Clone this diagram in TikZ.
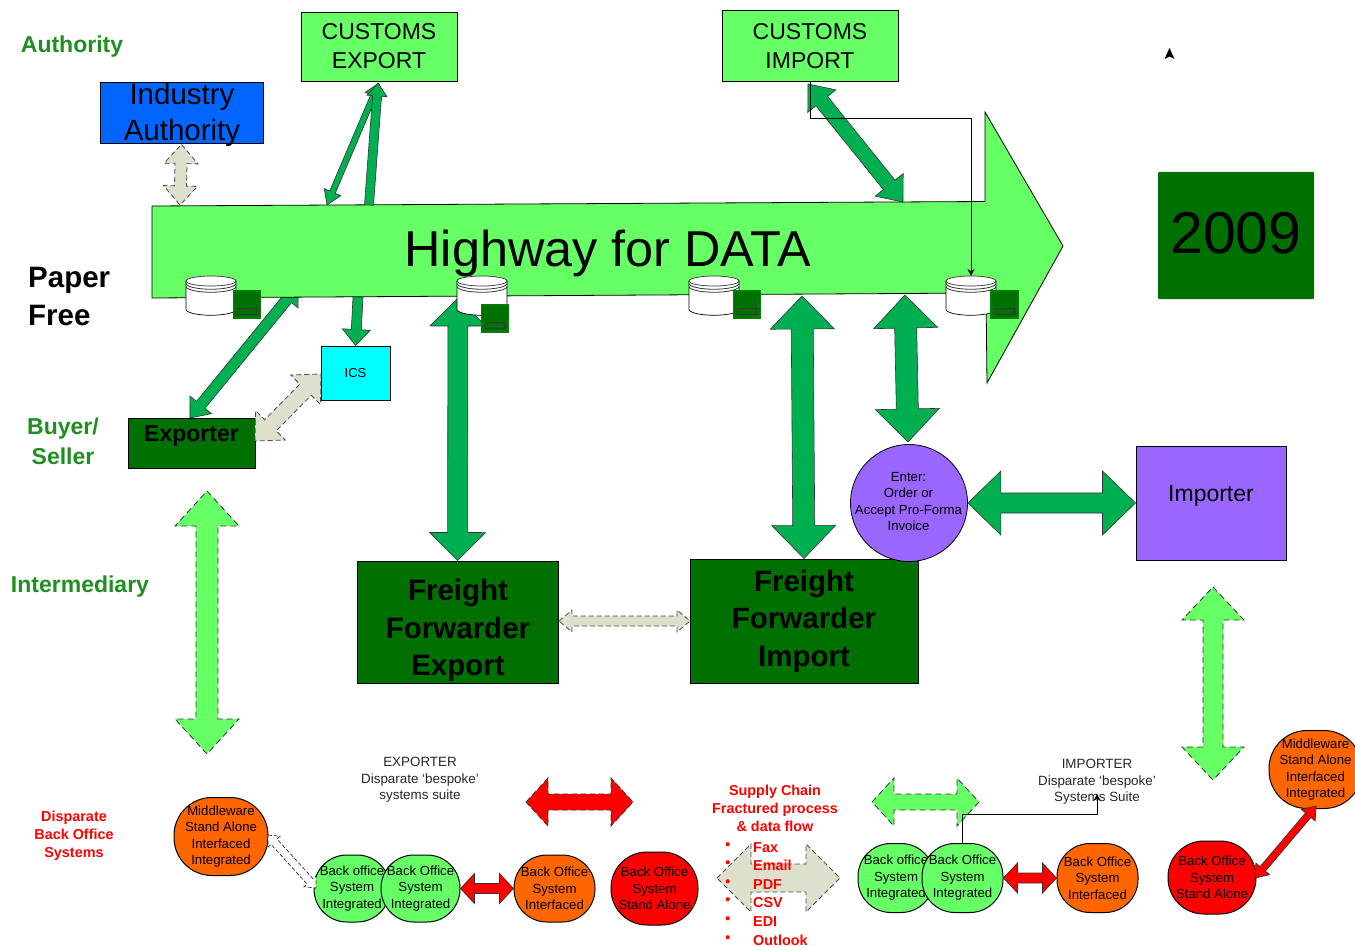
\documentclass[tikz,border=0pt]{standalone}
\usepackage{fontspec}
\setmainfont{Liberation Sans}
\usetikzlibrary{calc,arrows.meta}
\definecolor{lgreen}{HTML}{66FF66}
\definecolor{dgreen}{HTML}{007000}
\definecolor{agreen}{HTML}{00B050}
\definecolor{beige}{HTML}{DDE0CC}
\definecolor{iblue}{HTML}{0066FF}
\definecolor{purp}{HTML}{9966FF}
\definecolor{orng}{HTML}{FF6600}
\definecolor{lblgreen}{HTML}{1F8F1F}
\definecolor{icscyan}{HTML}{00FFFF}
\definecolor{pure}{HTML}{FF0000}
\newcommand{\fs}[2]{\fontsize{#1}{#2}\selectfont}
\tikzset{
  boxn/.style={draw=black,line width=1pt,inner sep=0pt,minimum width=#1},
  txt/.style={inner sep=0pt,align=center},
  bo/.style={draw=black,line width=1pt,rounded corners=33pt,inner sep=0pt,align=center,font=\fs{13.2}{16.5}},
  arrg/.style={fill=agreen,draw=black!80,line width=.6pt},
  arrb/.style={fill=beige,draw=black!70,line width=.8pt,dash pattern=on 5pt off 3pt},
  arrl/.style={fill=lgreen,draw=black!80,line width=.8pt,dash pattern=on 6pt off 4pt},
  arrr/.style={fill=pure,draw=black!80,line width=.8pt,dash pattern=on 6pt off 3pt},
  arrs/.style={fill=pure,draw=black!80,line width=.7pt},
  arrw/.style={fill=white,draw=black!80,line width=.7pt,dash pattern=on 4pt off 2pt},
  lab/.style={inner sep=0pt,align=center,text=lblgreen,font=\bfseries\fs{23}{30}},
  redl/.style={inner sep=0pt,align=center,text=pure,font=\bfseries\fs{14.4}{18}},
  blk/.style={inner sep=0pt,align=center,font=\fs{13.4}{16.5},text=black!85},
  thinl/.style={draw=black,line width=.9pt},
}
% double-headed block arrow: style, a, b, half shaft, half head, head length
\newcommand{\dbl}[6]{\draw[#1] (#2)
 -- ($(#2)!#6pt!(#3)!#5pt!90:(#3)$)
 -- ($(#2)!#6pt!(#3)!#4pt!90:(#3)$)
 -- ($(#3)!#6pt!(#2)!#4pt!-90:(#2)$)
 -- ($(#3)!#6pt!(#2)!#5pt!-90:(#2)$)
 -- (#3)
 -- ($(#3)!#6pt!(#2)!#5pt!90:(#2)$)
 -- ($(#3)!#6pt!(#2)!#4pt!90:(#2)$)
 -- ($(#2)!#6pt!(#3)!#4pt!-90:(#3)$)
 -- ($(#2)!#6pt!(#3)!#5pt!-90:(#3)$)
 -- cycle;}
% single-headed block arrow: style, tail, head, half shaft, half head, head length
\newcommand{\sgl}[6]{\draw[#1] ($(#2)!#4pt!90:(#3)$)
 -- ($(#3)!#6pt!(#2)!#4pt!-90:(#2)$)
 -- ($(#3)!#6pt!(#2)!#5pt!-90:(#2)$)
 -- (#3)
 -- ($(#3)!#6pt!(#2)!#5pt!90:(#2)$)
 -- ($(#3)!#6pt!(#2)!#4pt!90:(#2)$)
 -- ($(#2)!#4pt!-90:(#3)$)
 -- cycle;}
% database drum (left x, top y) plus small store box (centre x, centre y)
\newcommand{\drum}[5]{%
 \begin{scope}[shift={(#2,#3)}]
  \draw[fill=white,draw=black,line width=.7pt] (0,5) -- (0,34) .. controls (5,41) and (45,41) .. (50,34) -- (50,5) -- cycle;
  \draw[draw=black!80,line width=.8pt] (0,8) .. controls (5,15) and (45,15) .. (50,8);
  \draw[draw=black!80,line width=.8pt] (0,11) .. controls (5,18) and (45,18) .. (50,11);
  \draw[fill=white,draw=black!80,line width=.7pt] (25,5) ellipse [x radius=25,y radius=5];
 \end{scope}
 \coordinate (#1) at (#2+25,#3);
 \node[draw=black!50!green,fill=dgreen,line width=1.2pt,minimum width=27pt,minimum height=27pt,inner sep=0pt] (#1b) at (#4,#5) {};
 \node[draw=black!80,line width=.7pt,minimum width=19pt,minimum height=6pt,inner sep=0pt] (#1c) at (#4,#5+6.5) {};
}
\begin{document}
\begin{tikzpicture}[x=1pt,y=-1pt]
\useasboundingbox (0,0) rectangle (1355,947);
\fill[white] (0,0) rectangle (1355,947);
\begin{scope}
\clip (0,0) rectangle (1355,947);

% coordinates on the highway
\coordinate (hA) at (180,205);
\coordinate (hB) at (327,205);
\coordinate (hC) at (369,205);
\coordinate (hD) at (903,202);
\coordinate (hE) at (298,286);
\coordinate (hF) at (358,297);
\coordinate (hG) at (458,298);
\coordinate (hH) at (802,296);
\coordinate (hI) at (905,295);
\coordinate (exN) at (190,418);

% exporter arrow runs behind the highway
\dbl{arrg}{hE}{exN}{5.5}{14}{17}

% highway
\draw[fill=lgreen,draw=black,line width=.8pt] (152,206) -- (985,201.5) -- (985,112) -- (1063,246) -- (987,383) -- (986,293) -- (152,298) -- cycle;
\node[txt,font=\fs{50.4}{55}] (hwy) at (608,253) {Highway for DATA};

% boxes
\node[boxn=156pt,minimum height=69pt,fill=lgreen] (cexp) at (379,47.5) {};
\node[txt,font=\fs{23}{29}] (cexpt) at (379,46) {CUSTOMS\\EXPORT};
\node[boxn=176pt,minimum height=71pt,fill=lgreen] (cimp) at (810,46.5) {};
\node[txt,font=\fs{23}{29}] (cimpt) at (810,46) {CUSTOMS\\IMPORT};
\node[boxn=163pt,minimum height=61pt,fill=iblue] (ind) at (181.5,113.5) {};
\node[txt,font=\fs{29.5}{36}] (indt) at (182,115) {Industry\\Authority};
\node[boxn=69pt,minimum height=54pt,fill=icscyan,font=\fs{13}{15}] (ics) at (355.5,373) {ICS};
\node[boxn=127pt,minimum height=50pt,fill=dgreen] (exp) at (191.5,443) {};
\node[boxn=201pt,minimum height=122pt,fill=dgreen] (ffe) at (457.5,622) {};
\node[boxn=228pt,minimum height=124pt,fill=dgreen] (ffi) at (804,621) {};
\node[boxn=150pt,minimum height=114pt,fill=purp,font=\fs{23}{29}] (imp) at (1211,503) {};
\node[txt,font=\fs{23}{29}] (impt) at (1211,496) {Importer};
\node[draw=none,fill=dgreen,minimum width=156pt,minimum height=127pt,inner sep=0pt,rounded corners=1pt] (y2009) at (1236,235.5) {};
\node[txt,font=\fs{59}{65}] (y2009t) at (1236,233) {2009};
\node[txt,font=\bfseries\fs{23}{29}] (expt) at (191.5,436) {Exporter};
\node[txt,font=\bfseries\fs{29.5}{37.5}] (ffet) at (458,630.5) {Freight\\Forwarder\\Export};
\node[txt,font=\bfseries\fs{29.5}{37.5}] (ffit) at (804,621) {Freight\\Forwarder\\Import};

\coordinate (ceA) at (379,83);
\coordinate (ceB) at (378,83);
\coordinate (ciA) at (808,84);
\coordinate (exE) at (255,441);
\coordinate (icW) at (321,374);
\coordinate (ffeE) at (559,621);
\coordinate (ffiW) at (690,621);
\coordinate (enS) at (908,442);

% top / middle arrows
\dbl{arrb}{ind.south}{hA}{6}{17}{19}
\dbl{arrg}{ceA}{hB}{3}{9}{14}
\sgl{arrg}{hC}{ceB}{4.5}{10}{13}
\dbl{arrg}{ciA}{hD}{7.5}{18}{22}
\sgl{arrg}{hF}{ics.north}{5}{14}{16}
\dbl{arrb}{exE}{icW}{8}{21}{22}
\dbl{arrg}{hG}{ffe.north}{10}{28}{28}
\dbl{arrg}{hH}{ffi.north}{11}{32}{33}
\dbl{arrb}{ffeE}{ffiW}{5}{11}{13}

% enter circle
\dbl{arrg}{hI}{enS}{11}{32}{33}
\node[circle,draw=black,line width=.8pt,fill=purp,minimum size=117pt,inner sep=0pt] (enter) at (909,503) {};
\node[txt,font=\fs{13.2}{16.2}] (entert) at (908.5,501.5) {Enter:\\Order or\\Accept Pro-Forma\\Invoice};
\dbl{arrg}{enter.east}{imp.west}{10}{32}{33}

% drums
\drum{dA}{186}{276}{247}{304.5}
\drum{dB}{457}{276}{495}{318.5}
\drum{dC}{689}{276}{747}{304.5}
\drum{dD}{946}{276}{1004.5}{304.5}

% light green vertical
\coordinate (lg1a) at (207,491);
\coordinate (lg1b) at (207,754);
\coordinate (lg2a) at (1213,587);
\coordinate (lg2b) at (1213,780);
\dbl{arrl}{lg1a}{lg1b}{11}{32}{35}
\dbl{arrl}{lg2a}{lg2b}{10}{31}{33}

% bottom shapes
\node[bo,rounded corners=38pt,fill=orng,minimum width=94pt,minimum height=78pt] (mwL) at (221,836.5) {Middleware\\Stand Alone\\Interfaced\\Integrated};
\node[bo,fill=lgreen,minimum width=76pt,minimum height=67pt] (bo1) at (352,888.5) {Back office\\System\\Integrated};
\node[bo,fill=lgreen,minimum width=79pt,minimum height=67pt] (bo2) at (420.5,888.5) {Back Office\\System\\Integrated};
\node[bo,fill=orng,minimum width=81pt,minimum height=67pt] (bo3) at (554.5,888.5) {Back Office\\System\\Interfaced};
\node[bo,rounded corners=36pt,fill=pure,minimum width=87pt,minimum height=73pt] (bo4) at (654.5,888.5) {Back Office\\System\\Stand Alone};
\node[bo,fill=lgreen,minimum width=76pt,minimum height=69pt] (br1) at (896,878) {Back office\\System\\Integrated};
\node[bo,fill=lgreen,minimum width=81pt,minimum height=69pt] (br2) at (962.5,878) {Back Office\\System\\Integrated};
\node[bo,fill=orng,minimum width=81pt,minimum height=69pt] (br3) at (1097.5,878) {Back Office\\System\\Interfaced};
\node[bo,rounded corners=36pt,fill=pure,minimum width=88pt,minimum height=73pt] (br4) at (1212,877.5) {Back Office\\System\\Stand Alone};
\node[bo,rounded corners=38pt,fill=orng,minimum width=93pt,minimum height=78pt] (mwR) at (1315.5,769.5) {Middleware\\Stand Alone\\Interfaced\\Integrated};

\coordinate (wA) at (268,835);
\coordinate (wB) at (316,888);
\dbl{arrw}{wA}{wB}{4}{8}{9}
\dbl{arrs}{bo2.east}{bo3.west}{5}{15}{14}
\dbl{arrs}{br2.east}{br3.west}{5}{15}{14}
\coordinate (rdA) at (1255,878);
\coordinate (rdB) at (1316,806);
\dbl{arrs}{rdA}{rdB}{3.5}{9}{12}

\coordinate (rA) at (526,802);
\coordinate (rB) at (633,802);
\dbl{arrr}{rA}{rB}{8}{24}{22}
\coordinate (lA) at (872,802);
\coordinate (lB) at (979,802);
\dbl{arrl}{lA}{lB}{8}{24}{22}
\coordinate (bA) at (717,878);
\coordinate (bB) at (840,878);
\dbl{arrb}{bA}{bB}{14}{34}{34}

% labels
\node[lab] (lAuth) at (72,47) {Authority};
\node[txt,align=left,anchor=west,font=\bfseries\fs{29.5}{38}] (lPaper) at (28,296.5) {Paper\\Free};
\node[lab] (lBuyer) at (63,441) {Buyer/\\Seller};
\node[lab] (lInter) at (80,587) {Intermediary};
\node[redl] (lDisp) at (74,836) {Disparate\\Back Office\\Systems};
\node[blk] (lExp) at (420,780) {EXPORTER\\Disparate ‘bespoke’\\systems suite};
\node[blk] (lImp) at (1097,782) {IMPORTER\\Disparate ‘bespoke’\\Systems Suite};
\node[redl] (lSup) at (775,808.5) {Supply Chain\\Fractured process\\\& data flow};
\node[inner sep=0pt,align=left,text=pure,font=\bfseries\fs{14.4}{18.6},anchor=north west] (lList) at (753,842) {Fax\\Email\\PDF\\CSV\\EDI\\Outlook};
\node[inner sep=0pt,align=center,text=pure,font=\bfseries\fs{14.4}{18.6},anchor=north] (lBul) at (728,842) {•\\•\\•\\•\\•\\•};

% thin connectors
\draw[thinl,-{Stealth[length=7pt,width=7pt]}] (br2.north) |- (1097,814) -- (1097,794);
\coordinate (ciS) at (810,82);
\draw[thinl,-{Stealth[length=7pt,width=7pt]}] (ciS) |- (971,118) -- (dD);

% small triangle
\fill[black] (1169.5,48) -- (1174.5,59) -- (1169.5,56.5) -- (1164.5,59) -- cycle;
\end{scope}
\end{tikzpicture}
\end{document}
